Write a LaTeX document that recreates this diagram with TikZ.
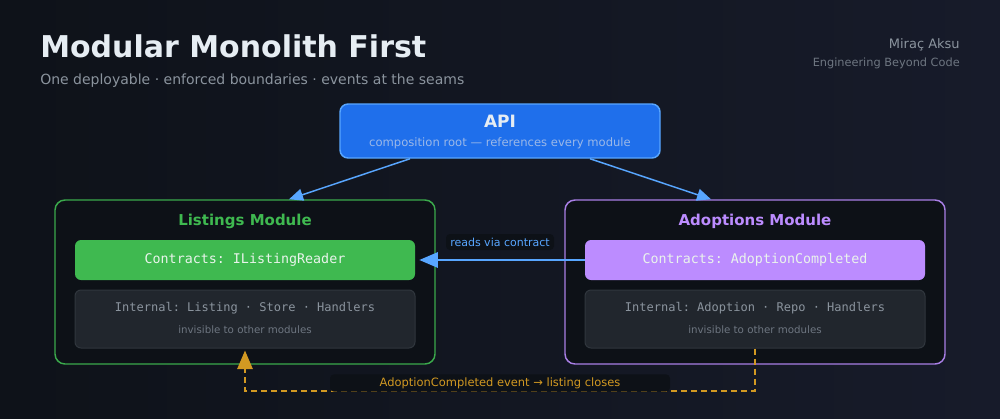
\documentclass[tikz,border=0pt]{standalone}
\usepackage{fontspec}
\setmainfont{DejaVu Sans}
\setmonofont{DejaVu Sans Mono}
\usetikzlibrary{arrows.meta,calc}

\definecolor{bgA}{HTML}{0E1219}
\definecolor{bgB}{HTML}{171B2A}
\definecolor{panel}{HTML}{0D1117}
\definecolor{inner}{HTML}{21262D}
\definecolor{innerline}{HTML}{30363D}
\definecolor{titletext}{HTML}{E6EDF3}
\definecolor{subtext}{HTML}{8B949E}
\definecolor{dimtext}{HTML}{6E7681}
\definecolor{apiblue}{HTML}{1F6FEB}
\definecolor{apiline}{HTML}{58A6FF}
\definecolor{apisubtext}{HTML}{9BB8E8}
\definecolor{lgreen}{HTML}{3FB950}
\definecolor{lgreenline}{HTML}{3BAA4C}
\definecolor{apurple}{HTML}{BC8CFF}
\definecolor{apurpleline}{HTML}{A97FE6}
\definecolor{contracttext}{HTML}{EAF4EC}
\definecolor{evorange}{HTML}{D29922}

\tikzset{
  modbox/.style={draw, line width=1.1pt, rounded corners=7.5pt, fill=panel,
    minimum width=285pt, minimum height=123pt},
  modtitle/.style={font=\fontsize{11.25pt}{13pt}\selectfont\bfseries},
  contractbox/.style={rounded corners=4.5pt, minimum width=255pt, minimum height=30pt,
    inner sep=0pt, text=contracttext, font=\fontsize{10pt}{12pt}\selectfont\ttfamily},
  internalbox/.style={draw=innerline, line width=0.75pt, rounded corners=4.5pt, fill=inner,
    minimum width=255pt, minimum height=43.5pt},
  internaltext/.style={text=subtext, font=\fontsize{9pt}{11pt}\selectfont\ttfamily},
  hinttext/.style={text=dimtext, font=\fontsize{7.7pt}{9pt}\selectfont},
  headtext/.style={inner sep=0pt},
  apiarrow/.style={draw=apiline, line width=1.1pt,
    -{Triangle[length=10.5pt,width=9pt]}},
  readarrow/.style={draw=apiline, line width=1.5pt,
    -{Triangle[length=14pt,width=11.5pt]}},
  eventarrow/.style={draw=evorange, line width=1.5pt, dash pattern=on 4.5pt off 3pt,
    -{Triangle[length=14pt,width=11.5pt]}},
  tagbox/.style={fill=panel, rounded corners=3pt, inner sep=0pt}
}

\begin{document}
\begin{tikzpicture}[x=0.75pt,y=-0.75pt]
                \useasboundingbox (0,0) rectangle (1000,418);
                % Drawing background
                \shade [left color=bgA, right color=bgB] (0,0) rectangle (1000,418);%

                % Marking title and subtitle
                \node [headtext, anchor=base west, text=titletext, font=\fontsize{22.5pt}{26pt}\selectfont\bfseries] (title) at (40,57) {Modular Monolith First};%
                \node [headtext, anchor=base west, text=subtext, font=\fontsize{10.5pt}{13pt}\selectfont] (subtitle) at (40,84) {One deployable · enforced boundaries · events at the seams};%

                % Marking author
                \node [headtext, anchor=base east, text=subtext, font=\fontsize{9.75pt}{12pt}\selectfont] (author) at (960,48) {Miraç Aksu};%
                \node [headtext, anchor=base east, text=dimtext, font=\fontsize{8.5pt}{10pt}\selectfont] (tagline) at (960,66) {Engineering Beyond Code};%

                % Drawing API box
                \node [draw=apiline, line width=1.1pt, rounded corners=6pt, fill=apiblue, minimum width=240pt, minimum height=40.5pt] (api) at (500,131) {};%
                \node [text=titletext, font=\fontsize{12.75pt}{15pt}\selectfont\bfseries] (apititle) at (500,121) {API};%
                \node [text=apisubtext, font=\fontsize{8.7pt}{11pt}\selectfont] (apisub) at (500,143) {composition root — references every module};%

                % Drawing Listings module
                \node [modbox, draw=lgreenline] (listings) at (245,282) {};%
                \node [modtitle, text=lgreen] (listtitle) at (245,221) {Listings Module};%
                \node [contractbox, fill=lgreen] (listcontract) at (245,260) {Contracts: IListingReader};%
                \node [internalbox] (listinternal) at (245,319) {};%
                \node [internaltext] (listinttext) at (245,308) {Internal: Listing · Store · Handlers};%
                \node [hinttext] (listhint) at (245,330) {invisible to other modules};%

                % Drawing Adoptions module
                \node [modbox, draw=apurpleline] (adoptions) at (755,282) {};%
                \node [modtitle, text=apurple] (adopttitle) at (755,221) {Adoptions Module};%
                \node [contractbox, fill=apurple] (adoptcontract) at (755,260) {Contracts: AdoptionCompleted};%
                \node [internalbox] (adoptinternal) at (755,319) {};%
                \node [internaltext] (adoptinttext) at (755,308) {Internal: Adoption · Repo · Handlers};%
                \node [hinttext] (adopthint) at (755,330) {invisible to other modules};%

                % Drawing API references
                \draw [apiarrow] ($(api.south)+(-90,0)$) -- ($(listings.north)+(44,0)$);%
                \draw [apiarrow] ($(api.south)+(90,0)$) -- ($(adoptions.north)+(-44,0)$);%

                % Drawing contract read
                \draw [readarrow] (adoptcontract.west) -- ($(listcontract.east)+(4,0)$);%
                \node [tagbox, minimum width=81pt, minimum height=12pt, text=apiline, font=\fontsize{8.25pt}{10pt}\selectfont] (readlbl) at (500,242) {reads via contract};%

                % Drawing event line
                \draw [eventarrow] (adoptinternal.south) -- ++(0,42) -| ($(listinternal.south)+(0,2)$);%
                \node [tagbox, minimum width=255pt, minimum height=13pt, text=evorange, font=\fontsize{8.6pt}{11pt}\selectfont] (evlbl) at (500,383) {AdoptionCompleted event → listing closes};%
\end{tikzpicture}
\end{document}
